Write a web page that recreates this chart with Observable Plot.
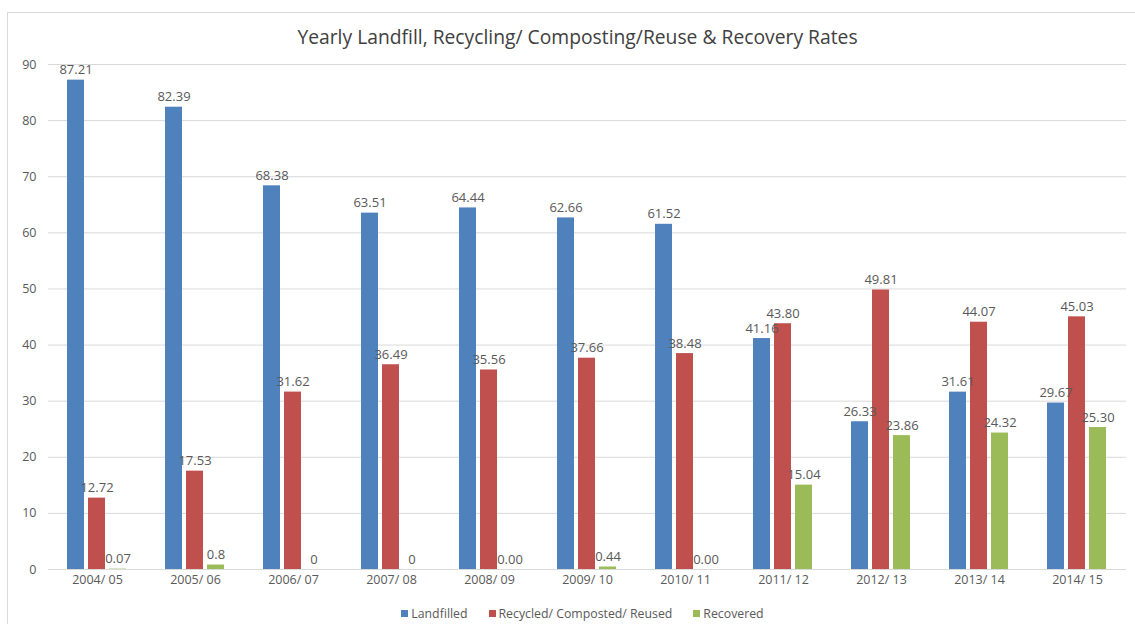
<!DOCTYPE html>
<html>
<head>
<meta charset="utf-8">
<script src="https://cdn.jsdelivr.net/npm/d3@7"></script>
<script src="https://cdn.jsdelivr.net/npm/@observablehq/plot@0.6"></script>
<style>
  html, body { margin: 0; padding: 0; background: #fff; }
  #chart {
    position: relative;
    width: 1135px;
    height: 624px;
    overflow: hidden;
    font-family: "Open Sans", sans-serif;
    color: #595959;
  }
  #frame {
    position: absolute;
    left: 7px;
    top: 12px;
    width: 1140px;
    height: 640px;
    border: 1px solid #d9d9d9;
    box-sizing: border-box;
  }
  #title {
    position: relative;
    height: 45px;
  }
  #title span {
    position: absolute;
    left: 0;
    width: 100%;
    top: 25px;
    line-height: 24px;
    text-align: center;
    font-size: 19.3px;
    color: #404040;
    padding-left: 20px;
    box-sizing: border-box;
  }
  #plot svg { display: block; }
  #legend {
    display: flex;
    justify-content: center;
    gap: 21px;
    font-size: 12.3px;
    color: #595959;
    margin-top: 10px;
    padding-left: 30px;
  }
  #legend .item { display: flex; align-items: center; gap: 3px; }
  #legend .sw { width: 7px; height: 7px; display: inline-block; }
</style>
</head>
<body>
<div id="chart">
  <div id="frame"></div>
  <div id="title"><span>Yearly Landfill, Recycling/ Composting/Reuse &amp; Recovery Rates</span></div>
  <div id="plot"></div>
  <div id="legend"></div>
</div>
<script>
// Financial years on the x axis
const years = ["2004/ 05", "2005/ 06", "2006/ 07", "2007/ 08", "2008/ 09", "2009/ 10",
               "2010/ 11", "2011/ 12", "2012/ 13", "2013/ 14", "2014/ 15"];

// Series names and their colours
const series = ["Landfilled", "Recycled/ Composted/ Reused", "Recovered"];
const colors = ["#4f81bd", "#c0504d", "#9bbb59"];

// Rates (%) as printed above each bar
const landfilled = ["87.21", "82.39", "68.38", "63.51", "64.44", "62.66", "61.52", "41.16", "26.33", "31.61", "29.67"];
const recycled   = ["12.72", "17.53", "31.62", "36.49", "35.56", "37.66", "38.48", "43.80", "49.81", "44.07", "45.03"];
const recovered  = ["0.07", "0.8", "0", "0", "0.00", "0.44", "0.00", "15.04", "23.86", "24.32", "25.30"];

// Y axis ticks
const yTicks = [0, 10, 20, 30, 40, 50, 60, 70, 80, 90];

const bySeries = [landfilled, recycled, recovered];
const rows = years.flatMap((year, i) =>
  series.map((s, j) => ({year, series: s, label: bySeries[j][i], value: +bySeries[j][i]}))
);

const chart = Plot.plot({
  width: 1135,
  height: 550,
  marginTop: 19,
  marginBottom: 26,
  marginLeft: 45,
  marginRight: 6,
  style: {fontFamily: "Open Sans, sans-serif", fontSize: "12.5px", color: "#595959", background: "transparent", overflow: "visible"},
  fx: {domain: years, padding: 0, label: null, axis: "bottom", tickSize: 0, tickPadding: 6},
  x: {domain: series, paddingInner: 0.19, paddingOuter: 0.88, axis: null},
  y: {domain: [0, 90], ticks: yTicks, label: null, tickSize: 0, tickPadding: 12},
  color: {domain: series, range: colors},
  marks: [
    Plot.gridY(yTicks, {stroke: "#d9d9d9", strokeOpacity: 1}),
    Plot.barY(rows, {fx: "year", x: "series", y: "value", fill: "series"}),
    Plot.text(rows, {
      fx: "year", x: "series", y: "value", text: "label",
      dy: -6, lineAnchor: "bottom", fill: "#595959", fontSize: 13
    })
  ]
});
document.getElementById("plot").append(chart);

// Legend row below the plot
const legend = d3.select("#legend");
series.forEach((s, i) => {
  const item = legend.append("div").attr("class", "item");
  item.append("span").attr("class", "sw").style("background", colors[i]);
  item.append("span").text(s);
});
</script>
</body>
</html>
